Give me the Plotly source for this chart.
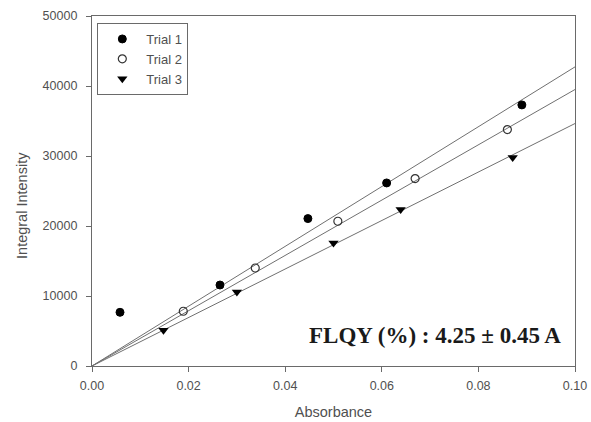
import plotly.graph_objects as go

# Absorbance / integrated fluorescence intensity for three trials
trial1_abs = [0.0058, 0.0265, 0.0447, 0.0610, 0.0890]
trial1_int = [7670, 11570, 21060, 26150, 37300]

trial2_abs = [0.0189, 0.0338, 0.0509, 0.0669, 0.0860]
trial2_int = [7820, 14000, 20680, 26780, 33780]

trial3_abs = [0.0148, 0.0300, 0.0500, 0.0639, 0.0871]
trial3_int = [5100, 10580, 17580, 22350, 29780]

# Slopes of the linear fits through the origin (intensity per absorbance unit)
fit_slopes = [427300, 395000, 346400]
fit_x_end = 0.10

series_names = ["Trial 1", "Trial 2", "Trial 3"]
annotation_text = "FLQY (%) : 4.25 ± 0.45 A"

SANS = "Arial, Liberation Sans, sans-serif"
TEXT_GRAY = "#505050"
AXIS_GRAY = "#6a6a6a"

fig = go.Figure()

# Fit lines
for s in fit_slopes:
    fig.add_trace(go.Scatter(
        x=[0, fit_x_end], y=[0, s * fit_x_end], mode="lines",
        line=dict(color="#707070", width=1), showlegend=False, hoverinfo="skip"))

fig.add_trace(go.Scatter(
    x=trial1_abs, y=trial1_int, mode="markers", name=series_names[0],
    marker=dict(symbol="circle", size=8, color="black", line=dict(color="black", width=1))))
fig.add_trace(go.Scatter(
    x=trial2_abs, y=trial2_int, mode="markers", name=series_names[1],
    marker=dict(symbol="circle-open", size=8, color="#333333", line=dict(width=1.2))))
fig.add_trace(go.Scatter(
    x=trial3_abs, y=trial3_int, mode="markers", name=series_names[2],
    marker=dict(symbol="triangle-down", size=9, color="black")))

axis_common = dict(
    showline=True, linecolor=AXIS_GRAY, linewidth=1.3, mirror=True,
    ticks="outside", ticklen=5, tickcolor=AXIS_GRAY, tickwidth=1,
    showgrid=False, zeroline=False, automargin=False,
    tickfont=dict(family=SANS, size=12.5, color=TEXT_GRAY),
)

fig.update_layout(
    width=591, height=422,
    margin=dict(l=92, r=16, t=16, b=56),
    paper_bgcolor="white", plot_bgcolor="white",
    font=dict(family=SANS, color=TEXT_GRAY),
    xaxis=dict(range=[0, 0.10], tickvals=[0, 0.02, 0.04, 0.06, 0.08, 0.10],
               tickformat=".2f", ticklabelstandoff=3,
               title=dict(text="Absorbance", font=dict(size=14.5, color=TEXT_GRAY), standoff=14),
               **axis_common),
    yaxis=dict(range=[0, 50000], tickvals=[0, 10000, 20000, 30000, 40000, 50000],
               tickformat="d", ticklabelstandoff=6,
               **axis_common),
    legend=dict(x=0.011, y=0.98, xanchor="left", yanchor="top",
                bordercolor=AXIS_GRAY, borderwidth=1, bgcolor="white",
                font=dict(size=13, color=TEXT_GRAY), itemwidth=38,
                tracegroupgap=0),
    showlegend=True,
    annotations=[
        dict(x=-0.145, y=0.46, xref="paper", yref="paper", xanchor="center", yanchor="middle",
             text="Integral Intensity", textangle=-90, showarrow=False,
             font=dict(family=SANS, size=14.5, color=TEXT_GRAY)),
        dict(x=0.975, y=0.087, xref="paper", yref="paper", xanchor="right", yanchor="middle",
             text="<b>" + annotation_text + "</b>", showarrow=False,
             font=dict(family="Liberation Serif, Times New Roman, serif", size=23, color="#1a1a1a")),
    ],
)

fig.write_html("out.html")
